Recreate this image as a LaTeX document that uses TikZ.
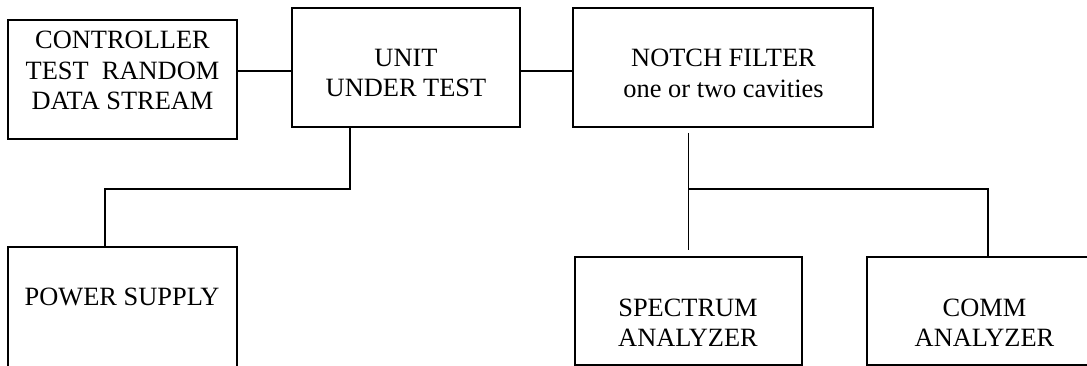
\documentclass[tikz,border=0pt]{standalone}
\usepackage{fontspec}
\setmainfont{Liberation Serif}

\begin{document}
\begin{tikzpicture}[
            x = 0.75pt, y = -0.75pt, % one unit = one pixel of the sketch
            line width = 1.3pt, % line style
            font = \fontsize{19.8pt}{22.8pt}\selectfont
        ]

        \tikzstyle{box}=[
            draw = black,
            inner sep = 0pt,
            minimum height = 89.25pt
        ]
        \tikzstyle{lbl}=[
            align = center,
            inner sep = 0pt
        ]

        \clip (0,0) rectangle (1087,365);

        % frames
        \node[box, minimum width = 171.75pt] (ctrl) at (122.5,79.5) {};
        \node[box, minimum width = 171pt] (uut) at (406,67.5) {};
        \node[box, minimum width = 225pt] (notch) at (723,67.5) {};
        \node[box, minimum width = 171.75pt, minimum height = 114.75pt] (ps) at (122.5,323.5) {};
        \node[box, minimum width = 170.25pt, minimum height = 81pt] (spec) at (688.5,311) {};
        \node[box, minimum width = 176.25pt, minimum height = 81pt] (comm) at (984.5,311) {};

        % texts
        \node[lbl] (ctrl-t) at (122.5,70.5) {CONTROLLER\\TEST\ \ RANDOM\\DATA STREAM};
        \node[lbl] (uut-t) at (406,73) {UNIT\\UNDER TEST};
        \node[lbl] (notch-t) at (723.5,73.5) {NOTCH FILTER\\one or two cavities};
        \node[lbl] (ps-t) at (122,297) {POWER SUPPLY};
        \node[lbl] (spec-t) at (688,322.5) {SPECTRUM\\ANALYZER};
        \node[lbl] (comm-t) at (984.5,322.5) {COMM\\ANALYZER};

        % links
        \coordinate (j) at (0,189); % height of both bus lines
        \coordinate (l1) at ([yshift=-2.6pt]uut.west);
        \coordinate (r1) at ([yshift=-2.6pt]uut.east);
        \coordinate (u) at ([xshift=-42pt]uut.south);
        \coordinate (p) at ([xshift=-13.1pt]ps.north);
        \coordinate (c) at ([xshift=2.6pt]comm.north);

        \draw (l1) -- (l1 -| ctrl.east);
        \draw (r1) -- (r1 -| notch.west);
        \draw (u) -- (u |- j) -| (p);
        \draw[shorten <= 3.75pt, shorten >= 4.5pt] (spec.north |- notch.south) -- (spec.north);
        \draw (spec.north |- j) -| (c);

  \end{tikzpicture}
\end{document}
